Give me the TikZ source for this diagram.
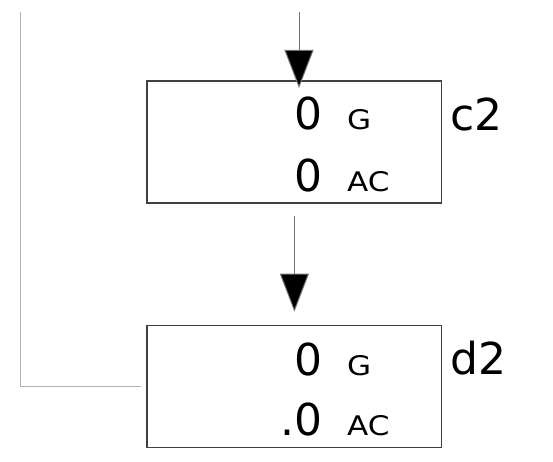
\documentclass[tikz,border=0pt]{standalone}
\usepackage{fontspec}
\setmainfont{DejaVu Sans}
\newfontfamily\widefont[FakeStretch=1.15]{DejaVu Sans}
\usetikzlibrary{arrows.meta}

\begin{document}
\begin{tikzpicture}[x=1pt,y=-1pt]
\tikzset{
  cell/.style={draw=black!75,line width=1.2pt,minimum width=294.7pt,minimum height=122pt,inner sep=0pt},
  val/.style={font=\fontsize{44}{44}\selectfont,inner sep=0pt,anchor=base east},
  tag/.style={font=\widefont\fontsize{27}{27}\selectfont,inner sep=0pt,anchor=base west},
  celllabel/.style={font=\fontsize{44}{44}\selectfont,inner sep=0pt,anchor=base west},
  feed/.style={draw=black!55,line width=1pt,-{Triangle[length=38pt,width=29pt,fill=black]}}
}
\useasboundingbox (0,0) rectangle (553,462);

\node [cell] (c2) at (294.4,142) {};
\node [cell] (d2) at (294.4,386.3) {};

\node [val] (c2g) at (323,130) {0};
\node [tag] (c2gt) at (347,130) {G};
\node [val] (c2a) at (323,192) {0};
\node [tag] (c2at) at (347,192) {AC};
\node [celllabel] (c2n) at (450,131) {c2};

\node [val] (d2g) at (323,375) {0};
\node [tag] (d2gt) at (347,375) {G};
\node [val] (d2a) at (323,435) {.0};
\node [tag] (d2at) at (347,435) {AC};
\node [celllabel] (d2n) at (450,374) {d2};

\coordinate (in) at (299,12);
\coordinate (back) at (20,12);

\draw [feed] (in) -- (299,88);
\draw [feed,shorten <=12pt] (c2.south) -- ([yshift=13pt]d2.north);
\draw [black!30,line width=1pt] (back) |- ([xshift=-5pt]d2.west);

\end{tikzpicture}
\end{document}
